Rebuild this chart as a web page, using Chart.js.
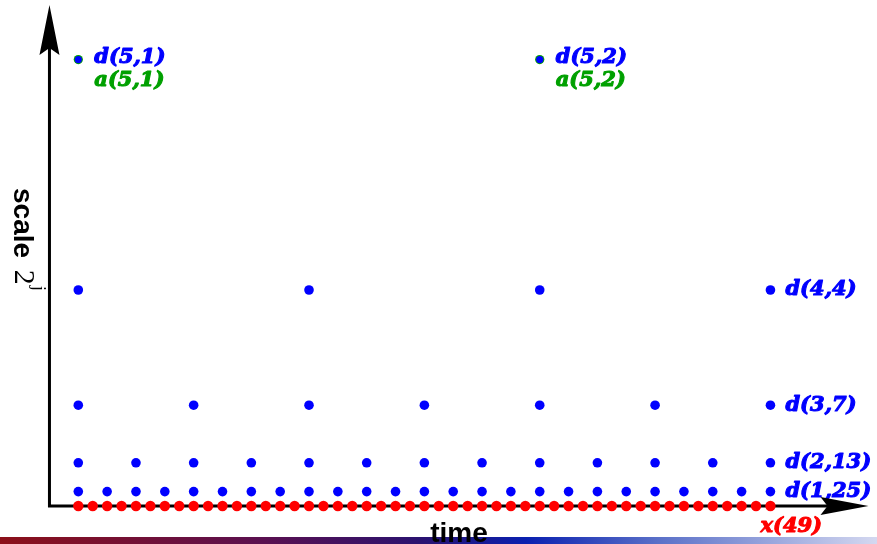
<!DOCTYPE html>
<html>
<head>
<meta charset="utf-8">
<script src="https://cdn.jsdelivr.net/npm/chart.js@4/dist/chart.umd.min.js"></script>
<style>
  body { margin: 0; background: #fff; }
  canvas { display: block; }
</style>
</head>
<body>
<canvas id="grafico" width="877" height="544"></canvas>
<script>
// time positions of the samples at each level
var xTimes  = [1,2,3,4,5,6,7,8,9,10,11,12,13,14,15,16,17,18,19,20,21,22,23,24,25,
               26,27,28,29,30,31,32,33,34,35,36,37,38,39,40,41,42,43,44,45,46,47,48,49];
var d1Times = [1,3,5,7,9,11,13,15,17,19,21,23,25,27,29,31,33,35,37,39,41,43,45,47,49];
var d2Times = [1,5,9,13,17,21,25,29,33,37,41,45,49];
var d3Times = [1,9,17,25,33,41,49];
var d4Times = [1,17,33,49];
var d5Times = [1,33];
var a5Times = [1,33];

// scale 2^j of each level (x = level 0)
var scaleX = 1, scaleD1 = 2, scaleD2 = 4, scaleD3 = 8, scaleD4 = 16, scaleD5 = 32;

// label texts
var labelD5 = ['d(5,1)', 'd(5,2)'];
var labelA5 = ['a(5,1)', 'a(5,2)'];
var labelRight = ['d(4,4)', 'd(3,7)', 'd(2,13)', 'd(1,25)'];
var labelX = 'x(49)';
var titoloX = 'time';
var titoloY = 'scale';

var BLU = '#0000ff', ROSSO = '#ff0000', VERDE = '#00a000';

function punti(tempi, livello) {
    return tempi.map(function (t) { return { x: t, y: livello }; });
}

// testo "grassetto" un po' più pesante
function scriviPesante(ctx, testo, x, y, colore) {
    ctx.fillStyle = colore;
    ctx.strokeStyle = colore;
    ctx.lineWidth = 1.1;
    ctx.fillText(testo, x, y);
    ctx.strokeText(testo, x, y);
}

// disegna assi, frecce, etichette e la barra in fondo
var pluginSchema = {
    id: 'schema',
    beforeDraw: function (chart) {
        var ctx = chart.ctx;
        ctx.save();
        ctx.fillStyle = '#fff';
        ctx.fillRect(0, 0, chart.width, chart.height);
        ctx.restore();
    },
    beforeDatasetsDraw: function (chart) {
        var ctx = chart.ctx, sx = chart.scales.x, sy = chart.scales.y;
        var x0 = sx.getPixelForValue(-1), y0 = sy.getPixelForValue(scaleX);
        var xEnd = sx.getPixelForValue(55.8), yEnd = sy.getPixelForValue(35.8);
        ctx.save();
        ctx.strokeStyle = '#000';
        ctx.lineWidth = 3;
        ctx.beginPath();
        ctx.moveTo(x0, yEnd + 30);
        ctx.lineTo(x0, y0);
        ctx.lineTo(xEnd - 30, y0);
        ctx.stroke();
        ctx.restore();
    },
    afterDatasetsDraw: function (chart) {
        var ctx = chart.ctx, sx = chart.scales.x, sy = chart.scales.y;
        ctx.save();
        ctx.font = 'italic bold 21px "DejaVu Serif"';
        ctx.textBaseline = 'middle';
        ctx.textAlign = 'left';
        ctx.lineJoin = 'round';

        // d(5,k) e a(5,k)
        d5Times.forEach(function (t, i) {
            var px = sx.getPixelForValue(t), py = sy.getPixelForValue(scaleD5);
            scriviPesante(ctx, labelD5[i], px + 16, py - 2, BLU);
            scriviPesante(ctx, labelA5[i], px + 16, py + 21, VERDE);
        });

        // etichette a destra
        var ultimi = [
            [d4Times, scaleD4], [d3Times, scaleD3], [d2Times, scaleD2], [d1Times, scaleD1]
        ];
        ultimi.forEach(function (u, i) {
            var t = u[0][u[0].length - 1];
            scriviPesante(ctx, labelRight[i], sx.getPixelForValue(t) + 15, sy.getPixelForValue(u[1]), BLU);
        });

        // x(49)
        scriviPesante(ctx, labelX, sx.getPixelForValue(xTimes[xTimes.length - 1]) - 10,
            sy.getPixelForValue(scaleX) + 21, ROSSO);

        // punte delle frecce
        var x0 = sx.getPixelForValue(-1), y0 = sy.getPixelForValue(scaleX);
        var xEnd = sx.getPixelForValue(55.8), yEnd = sy.getPixelForValue(35.8);
        ctx.fillStyle = '#000';
        ctx.beginPath();
        ctx.moveTo(x0, yEnd);
        ctx.lineTo(x0 - 10, yEnd + 50);
        ctx.lineTo(x0, yEnd + 43);
        ctx.lineTo(x0 + 10, yEnd + 50);
        ctx.closePath();
        ctx.fill();
        ctx.beginPath();
        ctx.moveTo(xEnd, y0);
        ctx.lineTo(xEnd - 48, y0 - 9);
        ctx.lineTo(xEnd - 41, y0);
        ctx.lineTo(xEnd - 48, y0 + 9);
        ctx.closePath();
        ctx.fill();
        ctx.restore();
    },
    afterDraw: function (chart) {
        var ctx = chart.ctx, sx = chart.scales.x;
        var W = chart.width, H = chart.height;
        ctx.save();
        // barra sfumata in fondo
        var g = ctx.createLinearGradient(0, 0, W, 0);
        g.addColorStop(0, '#8c1019');
        g.addColorStop(0.3, '#5a1050');
        g.addColorStop(0.48, '#2a1270');
        g.addColorStop(0.6, '#0a20b0');
        g.addColorStop(0.75, '#5a70c8');
        g.addColorStop(1, '#d4d8f0');
        ctx.fillStyle = g;
        ctx.fillRect(0, 537, W, H - 537);

        // titolo asse x
        ctx.fillStyle = '#000';
        ctx.font = 'bold 28px "Liberation Sans"';
        ctx.textAlign = 'center';
        ctx.textBaseline = 'alphabetic';
        var xm = (sx.getPixelForValue(-1) + sx.getPixelForValue(55.8)) / 2;
        ctx.fillText(titoloX, xm, 542);

        // titolo asse y ruotato
        ctx.translate(14, 188);
        ctx.rotate(Math.PI / 2);
        ctx.textAlign = 'left';
        ctx.font = 'bold 28px "Liberation Sans"';
        ctx.fillText(titoloY, 0, 0);
        var w = ctx.measureText(titoloY + ' ').width;
        ctx.font = '30px "Liberation Serif"';
        ctx.fillText('2', w + 4, -1);
        var w2 = ctx.measureText('2').width;
        ctx.font = '19px "Liberation Serif"';
        ctx.fillText('j', w + 4 + w2 + 1, -19);
        ctx.restore();
    }
};

var ctx = document.getElementById('grafico').getContext('2d');
var grafico = new Chart(ctx, {
    type: 'scatter',
    data: {
        datasets: [
            { label: 'd5', data: punti(d5Times, scaleD5), pointRadius: 3.6, backgroundColor: BLU, borderWidth: 0, order: 0 },
            { label: 'a5', data: punti(a5Times, scaleD5), pointRadius: 4.6, backgroundColor: VERDE, borderWidth: 0, order: 1 },
            { label: 'd4', data: punti(d4Times, scaleD4), pointRadius: 4.8, backgroundColor: BLU, borderWidth: 0, order: 2 },
            { label: 'd3', data: punti(d3Times, scaleD3), pointRadius: 4.8, backgroundColor: BLU, borderWidth: 0, order: 3 },
            { label: 'd2', data: punti(d2Times, scaleD2), pointRadius: 4.8, backgroundColor: BLU, borderWidth: 0, order: 4 },
            { label: 'd1', data: punti(d1Times, scaleD1), pointRadius: 4.8, backgroundColor: BLU, borderWidth: 0, order: 5 },
            { label: 'x', data: punti(xTimes, scaleX), pointRadius: 5.2, backgroundColor: ROSSO, borderWidth: 0, order: 6 }
        ]
    },
    options: {
        responsive: false,
        animation: false,
        devicePixelRatio: 1,
        layout: { padding: 0, autoPadding: false },
        clip: false,
        plugins: { legend: { display: false }, tooltip: { enabled: false } },
        scales: {
            x: { type: 'linear', min: -4.43, max: 56.39, display: false },
            y: { type: 'linear', min: -1.64, max: 36.14, display: false }
        }
    },
    plugins: [pluginSchema]
});
</script>
</body>
</html>
